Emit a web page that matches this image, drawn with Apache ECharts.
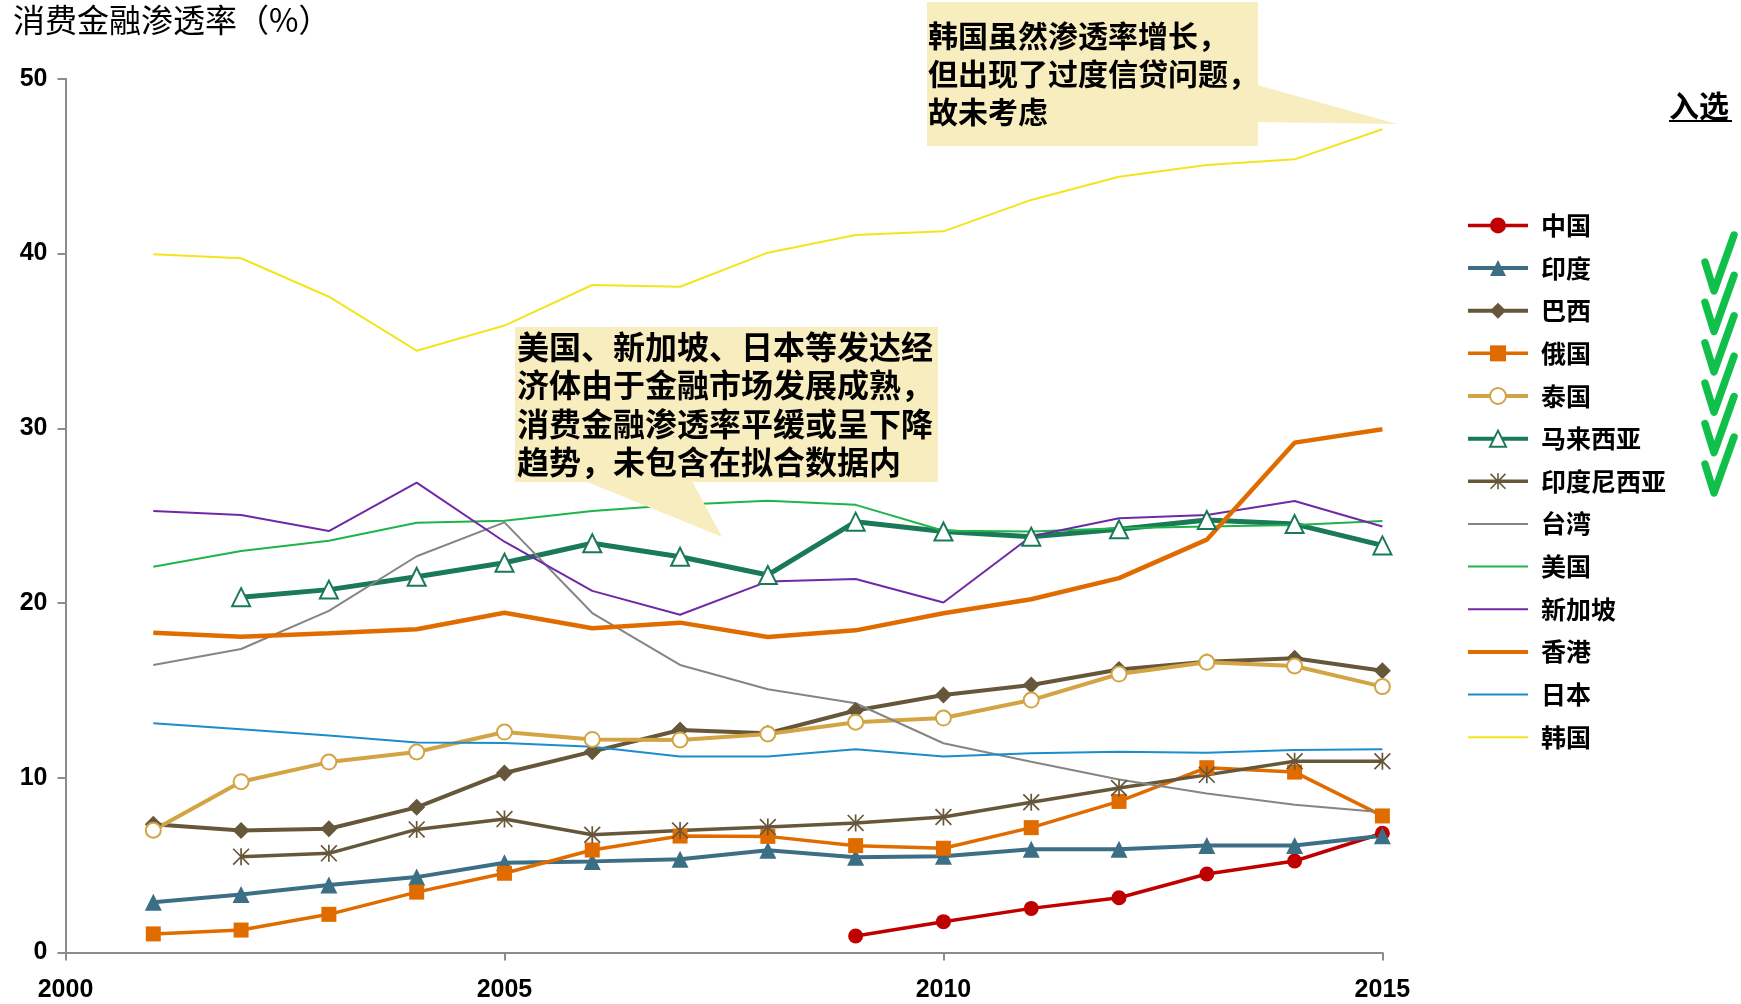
<!DOCTYPE html>
<html>
<head>
<meta charset="utf-8">
<script src="https://cdn.jsdelivr.net/npm/echarts@6/dist/echarts.min.js"></script>
<style>
html,body{margin:0;padding:0;background:#fff;}
#chart{width:1741px;height:1004px;}
</style>
</head>
<body>
<div id="chart"></div>
<script>
// ---------- data ----------
var years = [2001,2002,2003,2004,2005,2006,2007,2008,2009,2010,2011,2012,2013,2014,2015];
var xTicks = [2000, 2005, 2010, 2015];
var yTicks = [0, 10, 20, 30, 40, 50];

var china     = [null,null,null,null,null,null,null,null,0.95,1.77,2.53,3.14,4.5,5.24,6.83];
var india     = [2.88,3.33,3.87,4.32,5.14,5.22,5.34,5.86,5.45,5.52,5.92,5.92,6.13,6.13,6.68];
var brazil    = [7.35,6.98,7.09,8.31,10.28,11.5,12.74,12.55,13.85,14.74,15.31,16.2,16.64,16.84,16.13];
var russia    = [1.07,1.29,2.19,3.46,4.54,5.87,6.67,6.65,6.12,5.97,7.15,8.65,10.58,10.33,7.82];
var thailand  = [7.0,9.78,10.9,11.48,12.62,12.2,12.17,12.51,13.18,13.42,14.45,15.94,16.61,16.4,15.22];
var malaysia  = [null,20.34,20.77,21.51,22.31,23.42,22.65,21.61,24.66,24.1,23.8,24.22,24.75,24.52,23.3];
var indonesia = [null,5.49,5.68,7.05,7.64,6.74,6.98,7.18,7.42,7.76,8.6,9.42,10.17,10.95,10.95];
var taiwan    = [16.46,17.37,19.55,22.68,24.62,19.43,16.46,15.07,14.27,11.98,10.92,9.9,9.11,8.46,8.03];
var usa       = [22.08,22.98,23.57,24.6,24.71,25.27,25.62,25.86,25.62,24.14,24.09,24.28,24.38,24.47,24.7];
var singapore = [25.27,25.04,24.12,26.89,23.51,20.7,19.33,21.24,21.38,20.03,23.82,24.85,25.04,25.84,24.38];
var hongkong  = [18.3,18.07,18.27,18.5,19.45,18.56,18.88,18.06,18.44,19.42,20.22,21.43,23.63,29.18,29.95];
var japan     = [13.12,12.78,12.42,12.02,11.99,11.78,11.22,11.22,11.64,11.22,11.41,11.5,11.44,11.6,11.63];
var korea     = [39.96,39.73,37.53,34.44,35.88,38.2,38.1,40.05,41.06,41.27,43.07,44.4,45.07,45.39,47.11];

var seriesNames = ['中国','印度','巴西','俄国','泰国','马来西亚','印度尼西亚','台湾','美国','新加坡','香港','日本','韩国'];
var yAxisTitle = '消费金融渗透率（%）';
var note1 = ['韩国虽然渗透率增长，','但出现了过度信贷问题，','故未考虑'];
var note2 = ['美国、新加坡、日本等发达经','济体由于金融市场发展成熟，','消费金融渗透率平缓或呈下降','趋势，未包含在拟合数据内'];
var selectedLabel = '入选';

// ---------- helpers ----------
function pairs(vals){
  var out = [];
  for (var i = 0; i < years.length; i++) {
    if (vals[i] !== null) out.push([years[i], vals[i]]);
  }
  return out;
}
var CJK = '"Noto Sans CJK SC", "Noto Sans", sans-serif';
var starPath = 'path://M9 0L11 0L11 20L9 20Z M0 1.4L1.4 0L20 18.6L18.6 20Z M18.6 0L20 1.4L1.4 20L0 18.6Z';

var legendData = [];
function markerSeries(name, vals, color, symbol, size, width, extra){
  var s = {
    name: name, type: 'line', data: pairs(vals),
    symbol: symbol, symbolSize: size, showSymbol: true,
    lineStyle: {color: color, width: width},
    itemStyle: {color: color},
    emphasis: {disabled: true},
    animation: false, connectNulls: false
  };
  if (extra) for (var k in extra) s[k] = extra[k];
  legendData.push({name: name, lineStyle: {width: Math.min(width, 4), color: color}});
  return s;
}
function plainSeries(name, vals, color, width){
  legendData.push({name: name, lineStyle: {width: Math.min(width, 4), color: color}, itemStyle: {opacity: 0}});
  return {
    name: name, type: 'line', data: pairs(vals),
    symbol: 'none', showSymbol: false,
    lineStyle: {color: color, width: width},
    itemStyle: {color: color},
    emphasis: {disabled: true},
    animation: false
  };
}

var series = [
  markerSeries(seriesNames[0], china, '#C00000', 'circle', 15, 3.5),
  markerSeries(seriesNames[1], india, '#3C6E86', 'triangle', 17, 4),
  markerSeries(seriesNames[2], brazil, '#66573A', 'diamond', 17, 4),
  markerSeries(seriesNames[3], russia, '#E06C00', 'rect', 15, 3.5),
  markerSeries(seriesNames[4], thailand, '#D3A443', 'emptyCircle', 15, 4, {itemStyle:{color:'#D3A443', borderWidth:2.5}}),
  markerSeries(seriesNames[5], malaysia, '#1A7A58', 'emptyTriangle', 18, 5, {itemStyle:{color:'#1A7A58', borderWidth:2}}),
  markerSeries(seriesNames[6], indonesia, '#66573A', starPath, 17, 3.5),
  plainSeries(seriesNames[7], taiwan, '#858585', 2),
  plainSeries(seriesNames[8], usa, '#1FB44A', 2),
  plainSeries(seriesNames[9], singapore, '#7029A6', 2),
  plainSeries(seriesNames[10], hongkong, '#E06C00', 4.5),
  plainSeries(seriesNames[11], japan, '#1A8DCC', 2),
  plainSeries(seriesNames[12], korea, '#F2E51E', 2)
];

// ---------- graphics ----------
var graphics = [];
graphics.push({type:'text', left: 13, top: 4, z: 100,
  style:{text: yAxisTitle, font: 'normal 32px ' + CJK, fill:'#000'}});
// Korea callout
graphics.push({type:'polygon', z: 99, shape:{points:[[1257,85],[1397,124],[1257,122]]}, style:{fill:'#F8EDBE'}});
graphics.push({type:'rect', z: 99, shape:{x:927, y:2, width:331, height:144}, style:{fill:'#F8EDBE'}});
graphics.push({type:'text', z: 100, x: 928, y: 17,
  style:{text: note1.join('\n'), font: 'bold 30px ' + CJK, fill:'#000', lineHeight: 38}});
// developed economies callout
graphics.push({type:'polygon', z: 99, shape:{points:[[585,481],[722,537],[692,481]]}, style:{fill:'#F8EDBE'}});
graphics.push({type:'rect', z: 99, shape:{x:515, y:327, width:423, height:155}, style:{fill:'#F8EDBE'}});
graphics.push({type:'text', z: 100, x: 517, y: 328,
  style:{text: note2.join('\n'), font: 'bold 32px ' + CJK, fill:'#000', lineHeight: 38.2}});
// 入选 header
graphics.push({type:'text', z: 100, x: 1669, y: 91,
  style:{text: selectedLabel, font: 'bold 30px ' + CJK, fill:'#000'}});
graphics.push({type:'line', z: 100, shape:{x1:1669, y1:121, x2:1732, y2:121}, style:{stroke:'#000', lineWidth:2}});
// check marks next to selected series (印度 … 印度尼西亚)
for (var c = 0; c < 6; c++) {
  var b = 293 + 40.4 * c;
  graphics.push({type:'polyline', z: 100,
    shape:{points:[[1705, b - 31],[1714, b - 2],[1734, b - 58]]},
    style:{stroke:'#10C04A', lineWidth: 7.5, lineJoin:'round', lineCap:'round', fill: null}});
}

var axisFont = {fontFamily:'"Liberation Sans", Arial, sans-serif', fontWeight:'bold', fontSize:25, color:'#000'};

var option = {
  backgroundColor: '#fff',
  animation: false,
  grid: {left: 65.5, right: 358.6, top: 78.8, bottom: 51.4, containLabel: false},
  xAxis: {
    type: 'value', min: xTicks[0], max: xTicks[xTicks.length-1], interval: 5,
    axisLine: {show: true, onZero: false, lineStyle: {color: '#8C8C8C', width: 2}},
    axisTick: {show: true, length: 8, lineStyle: {color: '#8C8C8C', width: 2}},
    splitLine: {show: false},
    axisLabel: Object.assign({margin: 25, formatter: function(v){ return String(v); }}, axisFont)
  },
  yAxis: {
    type: 'value', min: yTicks[0], max: yTicks[yTicks.length-1], interval: 10,
    axisLine: {show: true, lineStyle: {color: '#8C8C8C', width: 2}},
    axisTick: {show: true, length: 8, lineStyle: {color: '#8C8C8C', width: 2}},
    splitLine: {show: false},
    axisLabel: Object.assign({margin: 18}, axisFont)
  },
  legend: {
    orient: 'vertical', left: 1461, top: 207.9,
    itemWidth: 60, itemHeight: 20, itemGap: 17.65,
    selectedMode: false,
    data: legendData,
    textStyle: {fontFamily: CJK, fontWeight: 'bold', fontSize: 25, color: '#000', padding: [0,0,0,8]}
  },
  series: series,
  graphic: graphics
};

var chart = echarts.init(document.getElementById('chart'), null, {renderer: 'canvas'});
chart.setOption(option);
</script>
</body>
</html>
